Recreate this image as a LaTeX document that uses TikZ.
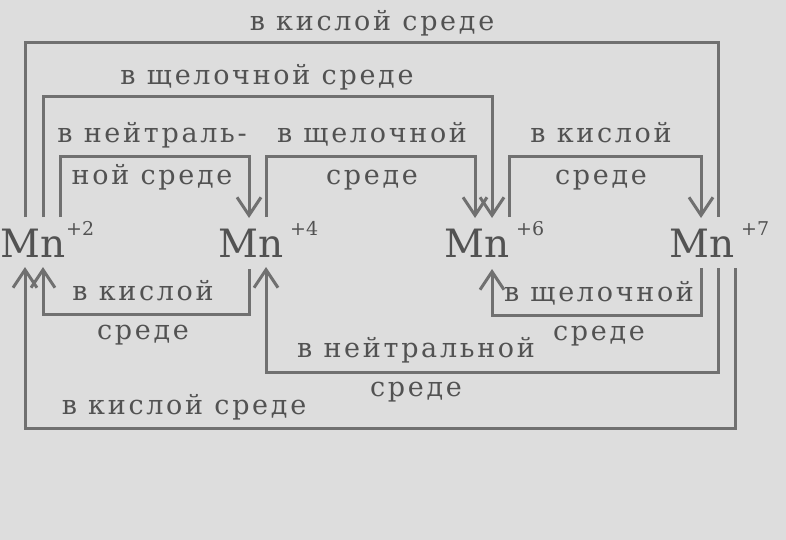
\documentclass[tikz,border=0pt]{standalone}
\usepackage{fontspec}
\setmainfont{DejaVu Serif}
\newfontfamily\labfont[LetterSpace=10]{DejaVu Serif}
\usetikzlibrary{arrows.meta}
\definecolor{bg}{RGB}{221,221,221}
\definecolor{ln}{RGB}{112,112,112}
\definecolor{tx}{RGB}{82,82,82}
\begin{document}
\begin{tikzpicture}[x=1pt,y=-1pt,
  conn/.style={draw=ln,line width=3pt},
  arr/.style={conn,-{Straight Barb[length=18pt,width=24pt]}},
  lab/.style={text=tx,font=\labfont\fontsize{27}{39}\selectfont,align=center,inner sep=0pt},
  mn/.style={text=tx,font=\fontsize{39}{39}\selectfont,inner sep=0pt,anchor=base west},
  sup/.style={text=tx,font=\fontsize{19}{19}\selectfont,inner sep=0pt,anchor=base west}]
\useasboundingbox (0,0) rectangle (786,540);
\fill[bg] (0,0) rectangle (786,540);
% ions
\node[mn] (Mn2) at (0,257) {Mn};
\node[sup] (s2) at (66,235) {+2};
\node[mn] (Mn4) at (218,257) {Mn};
\node[sup] (s4) at (290,235) {+4};
\node[mn] (Mn6) at (444,257) {Mn};
\node[sup] (s6) at (516,235) {+6};
\node[mn] (Mn7) at (669,257) {Mn};
\node[sup] (s7) at (741,235) {+7};
% ports
\coordinate (t2a) at (25,217);
\coordinate (t2b) at (43,218);
\coordinate (t2c) at (60,217);
\coordinate (t4a) at (249,218);
\coordinate (t4b) at (266,217);
\coordinate (t6a) at (475,218);
\coordinate (t6b) at (492,218);
\coordinate (t6c) at (509,217);
\coordinate (t7a) at (701,218);
\coordinate (t7b) at (718,217);
\coordinate (b2a) at (25,267);
\coordinate (b2b) at (43,267);
\coordinate (b4a) at (249,269);
\coordinate (b4b) at (266,267);
\coordinate (b6a) at (492,269);
\coordinate (b7a) at (701,268);
\coordinate (b7b) at (718,268);
\coordinate (b7c) at (735,268);
% upper connectors
\draw[conn] (t2a) -- ++(0,-174) -| (t7b);
\draw[arr] (t2b) ++(0,-1) -- ++(0,-120) -| (t6b);
\draw[arr] (t2c) -- ++(0,-60) -| (t4a);
\draw[arr] (t4b) -- ++(0,-60) -| (t6a);
\draw[arr] (t6c) -- ++(0,-60) -| (t7a);
% lower connectors
\draw[arr] (b4a) -- ++(0,45) -| (b2b);
\draw[arr] (b7b) -- ++(0,104) -| (b4b);
\draw[arr] (b7a) -- ++(0,47) -| (b6a);
\draw[arr] (b7c) -- ++(0,160) -| (b2a);
% labels
\node[lab] (l1) at (372,23) {в кислой среде};
\node[lab] (l2) at (267,77) {в щелочной среде};
\node[lab] (l3) at (152,156) {в нейтраль-\\[3pt]ной среде};
\node[lab] (l4) at (372,156) {в щелочной\\[3pt]среде};
\node[lab] (l5) at (601,156) {в кислой\\[3pt]среде};
\node[lab] (l6) at (143,313) {в кислой\\среде};
\node[lab] (l7) at (416,370) {в нейтральной\\среде};
\node[lab] (l8) at (599,314) {в щелочной\\среде};
\node[lab] (l9) at (184,407) {в кислой среде};
\end{tikzpicture}
\end{document}
